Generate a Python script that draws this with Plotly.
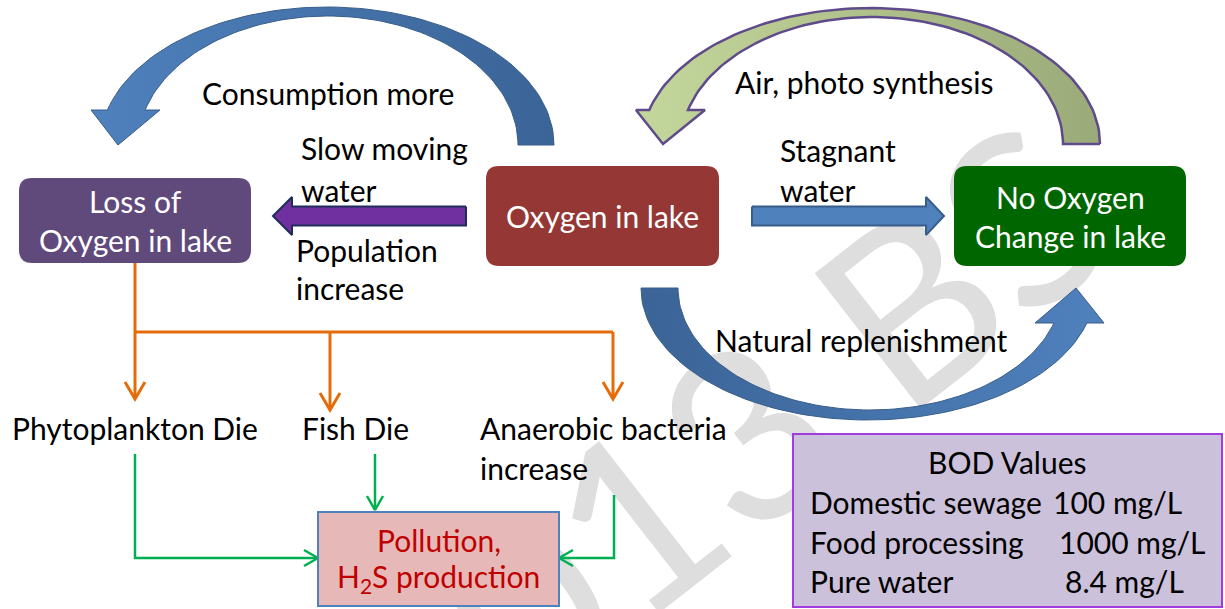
import numpy as np
import plotly.graph_objects as go

W, H = 1225, 609
FONT = "Lato"
FS = 30

# ---------------------------------------------------------------------------
# DIAGRAM CONTENT (pixel coordinates, y grows downward)
# ---------------------------------------------------------------------------

# rounded boxes: x0, y0, x1, y1
box_names = ["loss", "oxygen", "none"]
box_x0 = [19, 486, 954]
box_x1 = [251, 719, 1186]
box_y0 = [178, 166, 166]
box_y1 = [263, 266, 266]
box_colors = ["#604a7b", "#953735", "#006600"]
box_lines = [["Loss of", "Oxygen in lake"], ["Oxygen in lake"], ["No Oxygen", "Change in lake"]]

# curved arrows: outer ellipse, inner ellipse (cx, cy, rx, ry), head (out, tip, in)
curve_names = ["consumption", "air", "natural"]
curve_outer = [(327, 145, 227, 138), (871, 144, 229, 136), (868, 288, 227, 132)]
curve_inner = [(328, 145, 190, 129), (872, 144, 191, 127), (870, 288, 192, 122)]
curve_dir = [(1, -1), (1, -1), (-1, 1)]
curve_base = [110, 110, 323]
curve_head = [[(91, 110), (118, 145), (160, 110)],
              [(636, 110), (663, 144), (705, 110)],
              [(1104, 323), (1076, 288), (1035, 323)]]
curve_grad = [["#4f81bd", "#3b6497"], ["#c4d79b", "#9aaa79"], ["#3b6497", "#4f81bd"]]
curve_edge = ["#385d8a", "#5f4b8b", "#385d8a"]
curve_edge_w = [1, 2.5, 1]

# straight block arrows: tail x, head base x, tip x, centre y
block_tail = [466, 752]
block_base = [292, 926]
block_tip = [273, 944]
block_y = [216, 216]
block_fill = ["#7030a0", "#4f81bd"]
block_edge = ["#1f2d5a", "#385d8a"]

# plain labels: text, x, y (left anchored)
label_text = ["Consumption more", "Slow moving", "water", "Population", "increase",
              "Air, photo synthesis", "Stagnant", "water", "Natural replenishment",
              "Phytoplankton Die", "Fish Die", "Anaerobic bacteria", "increase"]
label_x = [200, 299, 299, 294, 294, 733, 778, 778, 713, 10, 300, 478, 478]
label_y = [93, 148, 190, 250, 288, 82, 150, 190, 340, 428, 428, 428, 468]

# orange split lines
orange_top = (135, 263, 332)
orange_drop_x = [135, 330, 613]
orange_tip_y = [399, 410, 399]

# green connectors (polyline points, last point is arrow tip)
green_paths = [[(135, 454), (135, 558), (318, 558)],
               [(375, 454), (375, 510)],
               [(614, 495), (614, 558), (559, 558)]]

# pollution box
poll_box = (318, 512, 559, 606)
poll_lines = ["Pollution,", "H<sub>2</sub>S production"]
poll_y = [540, 578]

# BOD table
bod_box = (793, 434, 1222, 607)
bod_title = "BOD Values"
bod_source = ["Domestic sewage", "Food processing", "Pure water"]
bod_value = ["100 mg/L", "1000 mg/L", "8.4 mg/L"]
bod_value_x = [1051, 1057, 1063]
bod_row_y = [502, 542, 581]

watermark = "2013 BS"
watermark_centre = (713, 449)


def rounded_rect(x0, y0, x1, y1, r):
    return (f"M{x0+r},{y0} L{x1-r},{y0} Q{x1},{y0} {x1},{y0+r} "
            f"L{x1},{y1-r} Q{x1},{y1} {x1-r},{y1} L{x0+r},{y1} "
            f"Q{x0},{y1} {x0},{y1-r} L{x0},{y0+r} Q{x0},{y0} {x0+r},{y0} Z")


def arc(ell, d, y_end, n=90):
    cx, cy, rx, ry = ell
    sx, sy = d
    t_end = np.pi - np.arcsin(abs(y_end - cy) / ry)
    t = np.linspace(0, t_end, n)
    return cx + sx * rx * np.cos(t), cy + sy * ry * np.sin(t)


fig = go.Figure()

# curved arrows
for i in range(len(curve_names)):
    ox, oy = arc(curve_outer[i], curve_dir[i], curve_base[i])
    ix, iy = arc(curve_inner[i], curve_dir[i], curve_base[i])
    hx = [p[0] for p in curve_head[i]]
    hy = [p[1] for p in curve_head[i]]
    xs = list(ox) + hx + list(ix[::-1]) + [ox[0]]
    ys = list(oy) + hy + list(iy[::-1]) + [oy[0]]
    fig.add_trace(go.Scatter(
        x=xs, y=ys, mode="lines", fill="toself",
        fillgradient=dict(type="horizontal",
                          colorscale=[[0, curve_grad[i][0]], [1, curve_grad[i][1]]]),
        line=dict(color=curve_edge[i], width=curve_edge_w[i]),
        hoverinfo="skip", showlegend=False))

# straight block arrows
for i in range(len(block_tail)):
    yc = block_y[i]
    xs = [block_tail[i], block_base[i], block_base[i], block_tip[i],
          block_base[i], block_base[i], block_tail[i], block_tail[i]]
    ys = [yc - 9.5, yc - 9.5, yc - 19, yc, yc + 19, yc + 9.5, yc + 9.5, yc - 9.5]
    fig.add_trace(go.Scatter(
        x=xs, y=ys, mode="lines", fill="toself", fillcolor=block_fill[i],
        line=dict(color=block_edge[i], width=2),
        hoverinfo="skip", showlegend=False))

# orange branch lines
ox0, oy0, oy1 = orange_top
xs = [ox0, ox0, None, min(orange_drop_x), max(orange_drop_x), None]
ys = [oy0, oy1, None, oy1, oy1, None]
for x, ty in zip(orange_drop_x, orange_tip_y):
    xs += [x, x, None, x - 10, x, x + 10, None]
    ys += [oy1, ty, None, ty - 17, ty, ty - 17, None]
fig.add_trace(go.Scatter(x=xs, y=ys, mode="lines",
                         line=dict(color="#e46c0a", width=3),
                         hoverinfo="skip", showlegend=False))

# green connectors
xs, ys = [], []
for path in green_paths:
    xs += [p[0] for p in path] + [None]
    ys += [p[1] for p in path] + [None]
    (ax, ay), (tx, ty) = path[-2], path[-1]
    if ax == tx:  # vertical arrow
        xs += [tx - 8, tx, tx + 8, None]
        ys += [ty - 14, ty, ty - 14, None]
    else:
        s = 1 if tx > ax else -1
        xs += [tx - s * 14, tx, tx - s * 14, None]
        ys += [ty - 8, ty, ty + 8, None]
fig.add_trace(go.Scatter(x=xs, y=ys, mode="lines",
                         line=dict(color="#00b050", width=2.5),
                         hoverinfo="skip", showlegend=False))

shapes = []
# watermark behind everything
wx, wy = watermark_centre
shapes.append(dict(type="rect", xref="x", yref="y", x0=wx - 100, x1=wx + 100,
                   y0=wy - 50, y1=wy + 50,
                   line=dict(width=0), fillcolor="rgba(0,0,0,0)", layer="below",
                   label=dict(text=watermark, textangle=-38, textposition="middle center",
                              font=dict(family=FONT, size=240, color="#dedede"))))
for i in range(len(box_names)):
    shapes.append(dict(type="path", xref="x", yref="y",
                       path=rounded_rect(box_x0[i], box_y0[i], box_x1[i], box_y1[i], 13),
                       fillcolor=box_colors[i], line=dict(width=0)))
shapes.append(dict(type="rect", xref="x", yref="y", x0=poll_box[0], y0=poll_box[1],
                   x1=poll_box[2], y1=poll_box[3], fillcolor="#e6b9b8",
                   line=dict(color="#4f81bd", width=2)))
shapes.append(dict(type="rect", xref="x", yref="y", x0=bod_box[0], y0=bod_box[1],
                   x1=bod_box[2], y1=bod_box[3], fillcolor="#ccc1da",
                   line=dict(color="#a03ce0", width=2)))

ann = []


def text(t, x, y, anchor="left", color="black", size=FS):
    ann.append(dict(text=t, x=x, y=y, xref="x", yref="y", xanchor=anchor,
                    yanchor="middle", showarrow=False,
                    font=dict(family=FONT, size=size, color=color)))


for t, x, y in zip(label_text, label_x, label_y):
    text(t, x, y)

for i in range(len(box_names)):
    cx = (box_x0[i] + box_x1[i]) / 2
    cy = (box_y0[i] + box_y1[i]) / 2
    lines = box_lines[i]
    for k, t in enumerate(lines):
        yy = cy + (k - (len(lines) - 1) / 2) * 39
        text(t, cx, yy, anchor="center", color="white")

pcx = (poll_box[0] + poll_box[2]) / 2
for t, y in zip(poll_lines, poll_y):
    text(t, pcx, y, anchor="center", color="#c00000")

text(bod_title, 1007, 462, anchor="center")
for s, v, vx, y in zip(bod_source, bod_value, bod_value_x, bod_row_y):
    text(s, 808, y)
    text(v, vx, y)

fig.update_layout(
    width=W, height=H,
    margin=dict(l=0, r=0, t=0, b=0),
    paper_bgcolor="white", plot_bgcolor="white",
    xaxis=dict(range=[0, W], visible=False, fixedrange=True),
    yaxis=dict(range=[H, 0], visible=False, fixedrange=True),
    shapes=shapes, annotations=ann, showlegend=False,
)

fig.write_html("out.html", config={"displayModeBar": False},
               post_script="document.body.style.margin='0';")
